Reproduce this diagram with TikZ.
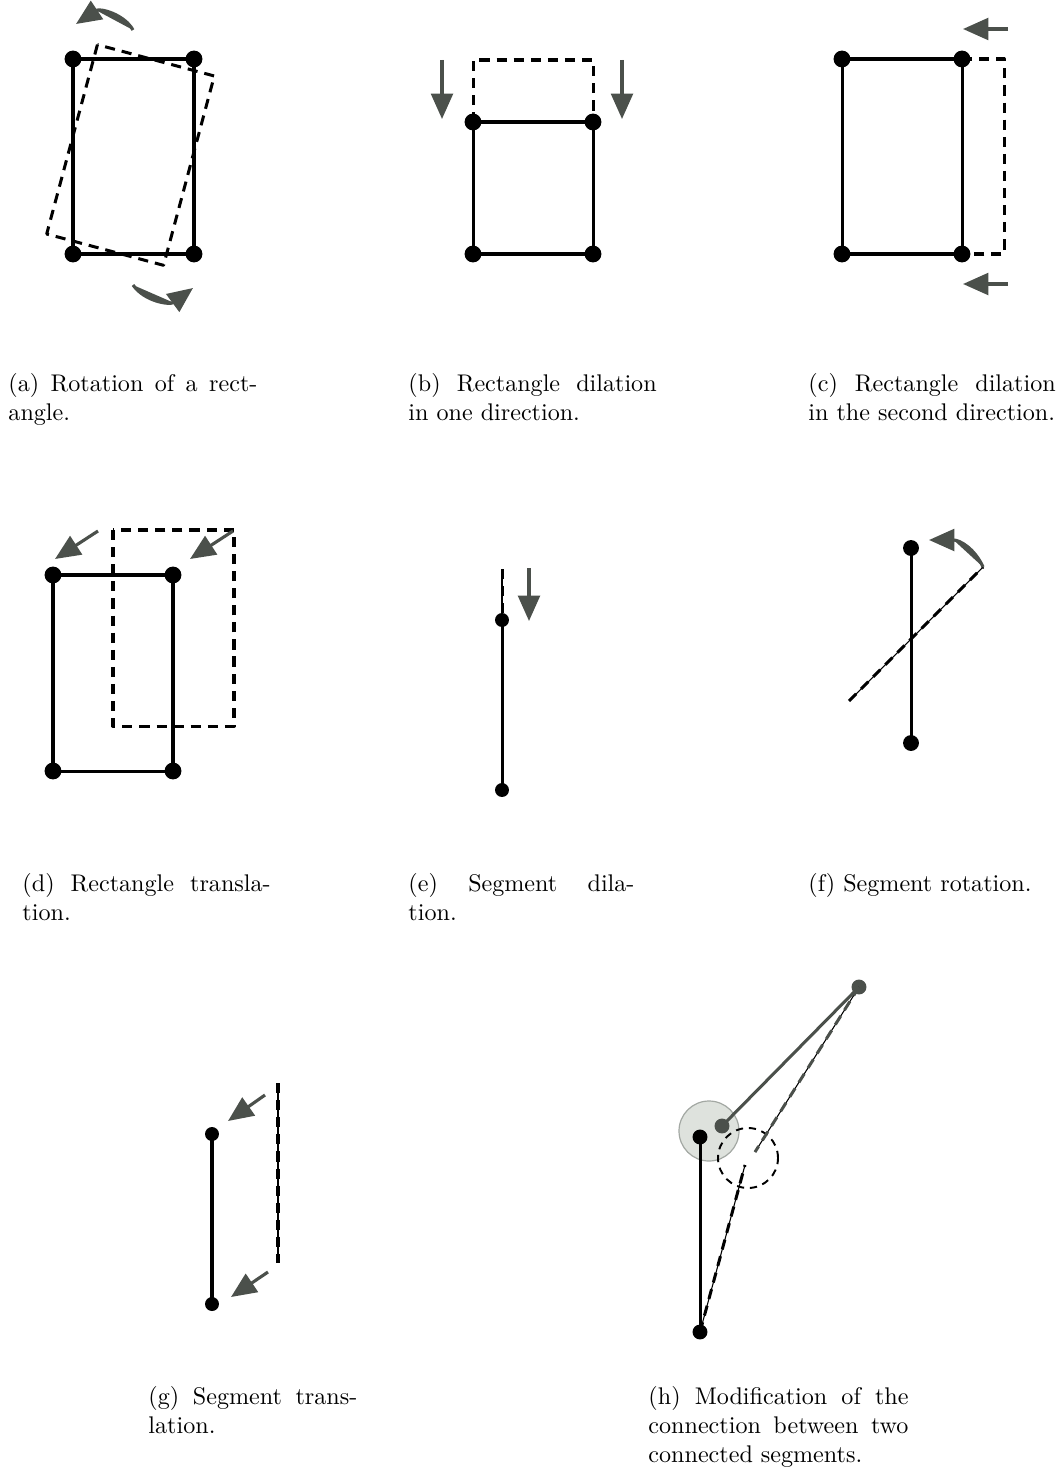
\documentclass[tikz,border=0pt]{standalone}
\usepackage{tikz}
\usetikzlibrary{arrows.meta,positioning}
\definecolor{mvgrey}{HTML}{4B504B}
\definecolor{mvlight}{HTML}{DEE2DD}
\definecolor{mvedge}{HTML}{A3A8A3}
\newcommand{\capfill}[2]{\makebox[#1][s]{\spaceskip=0pt\xspaceskip=0pt\relax #2}}

\begin{document}
\begin{tikzpicture}[x=0.415pt, y=-0.415pt,
  vdot/.style={circle, fill=black, inner sep=0pt, minimum size=7pt},
  sdot/.style={vdot, minimum size=5.8pt},
  gdot/.style={sdot, fill=mvgrey},
  segline/.style={line width=1.25pt},
  dline/.style={line width=1.25pt, dash pattern=on 4.2pt off 2.9pt},
  dseg/.style={dline, preaction={draw, solid, line width=0.45pt}},
  mv/.style={-{Triangle[length=10.5pt, width=9pt]}, line width=1.3pt, draw=mvgrey, fill=mvgrey},
  subcap/.style={anchor=north west, inner sep=0pt, align=left}
]
\useasboundingbox (0,0) rectangle (1061,1470);

% (a) rotation of a rectangle
\draw[dline, line join=round, rotate around={-15:(130.5,155)}] (70,57) rectangle (191,253);
\node[vdot] (a1) at (73,59) {};
\node[vdot] (a2) at (194,59) {};
\node[vdot] (a3) at (73,254) {};
\node[vdot] (a4) at (194,254) {};
\draw[segline] (a1.center) -- (a2.center) -- (a4.center) -- (a3.center) -- cycle;
\draw[mv] (133,30) .. controls (124,14) and (100,8) .. (76,24);
\draw[mv] (133,285) .. controls (145,302) and (170,305) .. (193,288);

% (b) dilation in one direction
\node[vdot] (b1) at (473,122) {};
\node[vdot] (b2) at (593,122) {};
\node[vdot] (b3) at (473,254) {};
\node[vdot] (b4) at (593,254) {};
\draw[segline] (b1.center) -- (b2.center) -- (b4.center) -- (b3.center) -- cycle;
\draw[dline, line join=round] (b1.center) -- (473,60) -- (593,60) -- (b2.center);
\draw[mv] (442,60) -- (442,119);
\draw[mv] (622,60) -- (622,119);

% (c) dilation in the second direction
\node[vdot] (c1) at (842,59) {};
\node[vdot] (c2) at (962,59) {};
\node[vdot] (c3) at (842,254) {};
\node[vdot] (c4) at (962,254) {};
\draw[segline] (c1.center) -- (c2.center) -- (c4.center) -- (c3.center) -- cycle;
\draw[dline, line join=round] (c2.center) -- (1004,59) -- (1004,254) -- (c4.center);
\draw[mv] (1008,29) -- (963,29);
\draw[mv] (1008,284) -- (963,284);

% (d) translation of a rectangle
\draw[dline, line join=round] (113,530) rectangle (234,726);
\node[vdot] (d1) at (53,575) {};
\node[vdot] (d2) at (173,575) {};
\node[vdot] (d3) at (53,771) {};
\node[vdot] (d4) at (173,771) {};
\draw[segline] (d1.center) -- (d2.center) -- (d4.center) -- (d3.center) -- cycle;
\draw[mv] (98,531) -- (55,559);
\draw[mv] (233,531) -- (190,559);

% (e) segment dilation
\node[sdot] (e1) at (502,620) {};
\node[sdot] (e2) at (502,790) {};
\draw[segline] (e1.center) -- (e2.center);
\coordinate (e0) at (502,569);
\draw[dseg] (e0) -- (e2.center);
\draw[mv] (529,568) -- (529,621);

% (f) segment rotation
\node[vdot, minimum size=6.6pt] (f1) at (911,548) {};
\node[vdot, minimum size=6.6pt] (f2) at (911,743) {};
\draw[segline] (f1.center) -- (f2.center);
\coordinate (f3) at (849,701);
\coordinate (f4) at (983,567);
\draw[dseg] (f3) -- (f4);
\draw[mv] (f4) .. controls (975,549) and (960,540) .. (929,540);

% (g) segment translation
\node[sdot] (g1) at (212,1134) {};
\node[sdot] (g2) at (212,1304) {};
\draw[segline] (g1.center) -- (g2.center);
\coordinate (g3) at (278,1083);
\coordinate (g4) at (278,1263);
\draw[dseg] (g3) -- (g4);
\draw[mv] (265,1095) -- (228,1121);
\draw[mv] (268,1272) -- (231,1297);

% (h) connection between two segments
\node[circle, draw=mvedge, fill=mvlight, line width=0.5pt, minimum size=24.9pt, inner sep=0pt] (hold) at (709,1131) {};
\node[circle, draw, line width=0.8pt, dash pattern=on 3pt off 2.4pt, minimum size=24.9pt, inner sep=0pt] (hnew) at (748,1158) {};
\node[sdot, minimum size=6.2pt] (h1) at (700,1137) {};
\node[sdot, minimum size=6.2pt] (h2) at (700,1332) {};
\node[gdot, minimum size=6.2pt] (h3) at (722,1126) {};
\node[gdot, minimum size=6.2pt] (h4) at (859,987) {};
\draw[segline] (h1.center) -- (h2.center);
\draw[segline, draw=mvgrey] (h3.center) -- (h4.center);
\coordinate (h5) at (745,1165);
\coordinate (h6) at (755,1152);
\draw[dseg] (h2.center) -- (h5);
\draw[dseg, draw=mvgrey] (h4.center) -- (h6);

% captions
\node[subcap, text width=103.3pt] (capa) at (8,373) {\capfill{103.3pt}{(a) Rotation of a rect-}\\angle.};
\node[subcap, text width=103.0pt] (capb) at (408,373) {\capfill{103.0pt}{(b) Rectangle dilation}\\in one direction.};
\node[subcap, text width=102.6pt] (capc) at (808,373) {\capfill{102.6pt}{(c) Rectangle dilation}\\in the second direction.};
\node[subcap, text width=103.0pt] (capd) at (22,873) {\capfill{103.0pt}{(d) Rectangle transla-}\\tion.};
\node[subcap, text width=93.8pt] (cape) at (408,873) {\capfill{93.8pt}{(e) Segment dila-}\\tion.};
\node[subcap] (capf) at (808,873) {(f) Segment rotation.};
\node[subcap, text width=86.7pt] (capg) at (148,1386) {\capfill{86.7pt}{(g) Segment trans-}\\lation.};
\node[subcap, text width=107.9pt] (caph) at (648,1386) {\capfill{107.9pt}{(h) Modification of the}\\\capfill{107.9pt}{connection between two}\\connected segments.};

\end{tikzpicture}
\end{document}
